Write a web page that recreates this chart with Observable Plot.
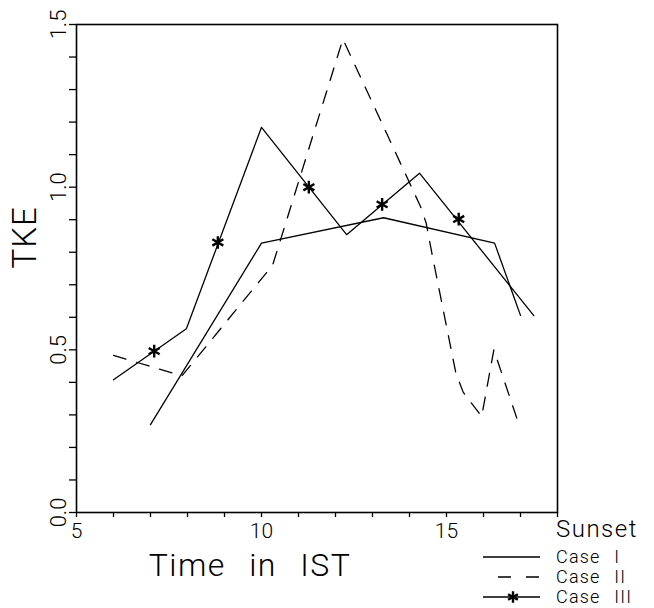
<!DOCTYPE html>
<html>
<head>
<meta charset="utf-8">
<script src="https://cdn.jsdelivr.net/npm/d3@7"></script>
<script src="https://cdn.jsdelivr.net/npm/@observablehq/plot@0.6"></script>
<style>
  html, body { margin: 0; padding: 0; background: #fff; }
  #wrap { position: relative; width: 654px; height: 608px; overflow: hidden; }
  #wrap svg { font-family: Roboto, "Liberation Sans", sans-serif; font-weight: 300; }
  #wrap svg text { fill: #000; }
  .xtitle text { letter-spacing: 1.5px; word-spacing: 14px; }
  .ytitle text { letter-spacing: 1px; }
  #legend { position: absolute; left: 478px; top: 510px; }
</style>
</head>
<body>
<div id="wrap"></div>
<script>
// ---- data ----
const caseIx = [7.0, 10.0, 13.3, 16.3, 17.0];
const caseIy = [0.27, 0.828, 0.906, 0.828, 0.606];

const caseIIx = [6.0, 7.85, 10.3, 12.2, 14.3, 14.45, 14.6, 15.25, 15.45, 15.95, 16.28, 16.9];
const caseIIy = [0.483, 0.42, 0.76, 1.455, 0.94, 0.89, 0.80, 0.43, 0.37, 0.295, 0.50, 0.29];

const caseIIIx = [6.0, 7.97, 10.0, 12.3, 14.27, 17.36];
const caseIIIy = [0.408, 0.565, 1.184, 0.854, 1.043, 0.605];

const caseIIIstarX = [7.1, 8.82, 11.28, 13.26, 15.33];
const caseIIIstarY = [0.496, 0.83, 1.0, 0.947, 0.902];

const xTicks = [5, 6, 7, 8, 9, 10, 11, 12, 13, 14, 15, 16, 17, 18];
const xTickLabels = [5, 10, 15];
const yTicks = [0, 0.1, 0.2, 0.3, 0.4, 0.5, 0.6, 0.7, 0.8, 0.9, 1.0, 1.1, 1.2, 1.3, 1.4, 1.5];
const yTickLabels = [0, 0.5, 1.0, 1.5];
const xTitle = "Time in IST";
const yTitle = "TKE";
const legendTitle = "Sunset";
const legendLabels = ["Case I", "Case II", "Case III"];

const zip = (xs, ys) => xs.map((x, i) => ({x, y: ys[i]}));
const dataI = zip(caseIx, caseIy);
const dataII = zip(caseIIx, caseIIy);
const dataIII = zip(caseIIIx, caseIIIy);
const starsIII = zip(caseIIIstarX, caseIIIstarY);

const chart = Plot.plot({
  width: 654,
  height: 608,
  marginLeft: 76,
  marginRight: 97,
  marginTop: 24,
  marginBottom: 96,
  style: {background: "#fff", color: "#000", overflow: "visible"},
  x: {domain: [5, 18]},
  y: {domain: [0, 1.5]},
  marks: [
    Plot.frame({stroke: "#000", strokeWidth: 1.6}),
    Plot.axisX(xTicks, {
      tickSize: 5, strokeWidth: 1.3, tickPadding: 6,
      tickFormat: d => xTickLabels.includes(d) ? String(d) : "",
      fontSize: 21, label: null
    }),
    Plot.axisY(yTicks, {
      tickSize: 7, strokeWidth: 1.3, tickRotate: -90, tickPadding: 4,
      tickFormat: d => yTickLabels.includes(d) ? d3.format(".1f")(d) : "",
      fontSize: 22, label: null
    }),
    Plot.text([xTitle], {frameAnchor: "bottom", dx: -67, dy: 63, lineAnchor: "bottom", fontSize: 32, fontWeight: 300,
      fill: "#000", className: "xtitle"}),
    Plot.text([yTitle], {frameAnchor: "left", dx: -51, rotate: -90, fontSize: 33, fontWeight: 300, fill: "#000",
      className: "ytitle"}),
    Plot.line(dataI, {x: "x", y: "y", stroke: "#000", strokeWidth: 1.3}),
    Plot.line(dataII, {x: "x", y: "y", stroke: "#000", strokeWidth: 1.3, strokeDasharray: "13,11"}),
    Plot.line(dataIII, {x: "x", y: "y", stroke: "#000", strokeWidth: 1.3}),
    Plot.dot(starsIII, {x: "x", y: "y", symbol: "asterisk", r: 6, stroke: "#000", strokeWidth: 2.4})
  ]
});
document.getElementById("wrap").appendChild(chart);

// ---- legend (below-right of the plot) ----
const lg = d3.create("svg")
  .attr("id", "legend")
  .attr("width", 176).attr("height", 98)
  .style("font-family", 'Roboto, "Liberation Sans", sans-serif')
  .style("font-weight", 300);
lg.append("text").attr("x", 78).attr("y", 27).attr("font-size", 24).attr("fill", "#000")
  .attr("letter-spacing", 1.5).text(legendTitle);
const rowY = [47, 67, 87];
const styles = [null, "13,15", null];
legendLabels.forEach((lab, i) => {
  const y = rowY[i];
  const line = lg.append("line").attr("x1", i === 1 ? 20 : 5).attr("x2", 62)
    .attr("y1", y).attr("y2", y).attr("stroke", "#000").attr("stroke-width", 1.3);
  if (styles[i]) line.attr("stroke-dasharray", styles[i]);
  if (i === 2) {
    lg.append("path").attr("transform", `translate(35,${y})`)
      .attr("d", d3.symbol(d3.symbolAsterisk, 90)())
      .attr("stroke", "#000").attr("stroke-width", 2.4).attr("fill", "none");
  }
  lg.append("text").attr("x", 78).attr("y", y + 6).attr("font-size", 18).attr("fill", "#000")
    .attr("letter-spacing", 1.2).attr("word-spacing", 8).text(lab);
});
document.getElementById("wrap").appendChild(lg.node());
</script>
</body>
</html>
